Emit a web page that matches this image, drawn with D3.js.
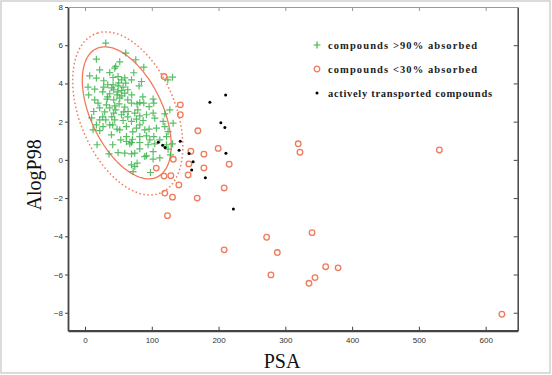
<!DOCTYPE html>
<html>
<head>
<meta charset="utf-8">
<script src="https://cdn.jsdelivr.net/npm/d3@7"></script>
<style>
  body { margin: 0; background: #fff; }
  svg { display: block; }
</style>
</head>
<body>
<div id="chart"></div>
<script>
const width = 552;
const height = 375;

// compounds >90% absorbed  [PSA, AlogP98]
const wellAbsorbed = [
  [31,6.11],[61,5.59],[76,5.24],[17,5.27],[88,4.85],[131,4.33],[124,4.19],[7,4.4],[17,4.28],[28,4.14],
  [37,4.57],[44.5,4.8],[46,4.89],[49.5,4.36],[42,4.31],[54.6,4.19],[69.6,4.19],[84.6,4.1],[4.5,3.81],[14.5,3.7],
  [28,3.81],[42,3.93],[49.5,3.87],[57,3.81],[61,4.02],[81,3.87],[43,3.67],[54.6,3.63],[37,3.46],[48,3.4],
  [59.5,3.49],[14.5,3.14],[33,3.18],[43,3.14],[52,3.23],[19.5,2.97],[13,2.53],[32,2.88],[44.5,2.83],[51,2.93],
  [59.5,2.76],[69.6,2.97],[78,2.93],[82,3.0],[88,2.97],[102,3.18],[103,2.97],[96,2.79],[127,2.62],[119.5,2.41],
  [64.5,2.53],[74.5,2.45],[54.6,2.36],[43,2.45],[82,2.3],[92,2.36],[102,2.45],[104.5,2.18],[22,2.09],[31,2.09],
  [17,1.83],[27,1.74],[37,1.83],[44.5,2.09],[57,2.06],[69.6,2.01],[77,2.13],[87,2.06],[117,2.01],[132,1.92],
  [12,1.57],[22,1.53],[48,1.61],[62,1.74],[77,1.66],[96,1.61],[107,1.66],[119.5,1.74],[124.4,1.48],[39.6,1.31],
  [62,1.22],[71,1.08],[82,1.22],[92,1.26],[103,1.22],[122,1.22],[62,0.96],[67,0.84],[69.6,0.91],[82,0.91],
  [94.5,0.79],[104.5,0.84],[18,0.79],[122,0.79],[131,0.84],[124.4,0.56],[49.5,0.38],[59.5,0.35],[69.6,0.31],[74.5,0.35],
  [92,0.21],[102,0.43],[102,0.04],[36,0.31],[69.6,-0.26],[74.5,-0.35],[72,-0.61],[78,-0.17],[98,-0.66],[128,0.26],
  [89.5,0.17],[34,3.93],[40,3.77],[49,3.56],[55,3.35],[64,3.14],[37,2.72],[46,2.62],[58,2.51],[64,2.25],
  [40,2.25],[29.5,2.51],[22,2.72],[50.5,4.03],[59.5,4.29],[26.5,3.56],[34,3.3],[64,3.67],[70,3.4],[5.5,3.4],
  [10,2.2],[26.5,2.25],[41.5,1.83],[52,1.57],[82,1.83],[89.5,1.57],[112,1.05],[97,1.05],[71.5,1.47],[79,2.62],
  [86.5,3.3],[52,5.13],[73,4.56],[22,4.71],[53.5,1.05],[41.5,0.79],[112,0.1],[82,0.58]
];

// compounds <30% absorbed
const poorlyAbsorbed = [
  [118.4,4.36],[142.7,2.88],[142.7,2.36],[169,1.52],[158.5,0.45],[178,0.3],[199.4,0.6],[132.2,0.03],[106.7,-0.43],[155.5,-0.21],
  [178,-0.42],[215.9,-0.23],[154.4,-0.79],[118.4,-0.85],[128.5,-0.83],[140.5,-1.31],[208.4,-1.47],[119.5,-1.74],[131,-1.95],[168,-2.0],
  [123.5,-2.92],[208.4,-4.71],[272,-4.05],[288,-4.85],[340,-3.81],[278.4,-6.02],[360.4,-5.59],[379,-5.65],[344.4,-6.16],[335.4,-6.46],
  [319.3,0.84],[321.9,0.4],[530.7,0.52],[624.3,-8.08]
];

// actively transported compounds
const activeTransport = [
  [109.7,0.92],[116.2,0.76],[119.9,0.65],[142.7,0.98],[140.9,0.5],[155.8,0.33],[161.9,-0.1],[159.7,-0.53],[180.2,-0.93],[187,3.02],
  [210.6,3.4],[203.4,1.94],[209.4,1.7],[211,0.35],[222.2,-2.57]
];

// ellipses: centre and two conjugate semi-axes, in data units
const innerEllipse = { c: [62.5, 2.46], u: [-45.4, 3.36], v: [48.7, 0.80] };
const outerEllipse = { c: [64.0, 2.43], u: [-49.1, 4.16], v: [66.3, 0.95] };

const xTicks = [0, 100, 200, 300, 400, 500, 600];
const yTicks = [-8, -6, -4, -2, 0, 2, 4, 6, 8];

const legendItems = [
  { label: "compounds >90% absorbed", kind: "cross" },
  { label: "compounds <30% absorbed", kind: "circle" },
  { label: "actively transported compounds", kind: "dot" }
];

const green = "#3cb44b";
const orange = "#f27a5a";

const svg = d3.select("#chart").append("svg")
  .attr("width", width)
  .attr("height", height);

// outer frame of the picture
svg.append("rect")
  .attr("x", 1).attr("y", 1)
  .attr("width", width - 3).attr("height", height - 3)
  .attr("fill", "none")
  .attr("stroke", "#d0d0d0")
  .attr("stroke-width", 1.5);

const x = d3.scaleLinear().domain([-25.5, 648]).range([68, 517.7]);
const y = d3.scaleLinear().domain([-8.94, 8]).range([330.7, 7]);

// axes
const axisColor = "#444";
function styleAxis(g) {
  g.selectAll("line").attr("stroke", axisColor);
  g.selectAll("path.domain").attr("stroke", axisColor);
  g.selectAll("text")
    .attr("fill", "#333")
    .attr("font-family", "Liberation Sans, Arial, sans-serif")
    .attr("font-size", "8px");
}

svg.append("g")
  .attr("transform", `translate(${x.range()[0]},0)`)
  .call(d3.axisLeft(y).tickValues(yTicks).tickSize(3).tickSizeOuter(0).tickPadding(2))
  .call(styleAxis)
  .call(g => g.select("path.domain").attr("stroke-width", 1.8));

svg.append("g")
  .attr("transform", `translate(0,${y.range()[0]})`)
  .call(d3.axisBottom(x).tickValues(xTicks).tickSize(-4).tickSizeOuter(0).tickPadding(7))
  .call(styleAxis)
  .call(g => g.select("path.domain").attr("stroke-width", 2.2));

svg.append("g")
  .attr("transform", `translate(${x.range()[1]},0)`)
  .call(d3.axisRight(y).tickValues(yTicks).tickSize(-4).tickSizeOuter(0).tickFormat(""))
  .call(styleAxis)
  .call(g => g.select("path.domain").attr("stroke-width", 1.5));

svg.append("g")
  .attr("transform", `translate(0,${y.range()[1]})`)
  .call(d3.axisTop(x).tickValues(xTicks).tickSize(-4).tickSizeOuter(0).tickFormat(""))
  .call(styleAxis)
  .call(g => g.selectAll("path.domain, line").attr("stroke", "#999"));

// axis titles
svg.append("text")
  .attr("transform", `translate(41,${(y.range()[0] + y.range()[1]) / 2 + 6}) rotate(-90)`)
  .attr("text-anchor", "middle")
  .attr("font-family", "Liberation Serif, Times New Roman, serif")
  .attr("font-size", "20px")
  .attr("fill", "#111")
  .text("AlogP98");

svg.append("text")
  .attr("x", 282)
  .attr("y", 368)
  .attr("text-anchor", "middle")
  .attr("font-family", "Liberation Serif, Times New Roman, serif")
  .attr("font-size", "20px")
  .attr("fill", "#111")
  .text("PSA");

// ellipses
function ellipsePoints(e) {
  return d3.range(0, 361, 3).map(a => {
    const t = a * Math.PI / 180;
    return [
      e.c[0] + e.u[0] * Math.cos(t) + e.v[0] * Math.sin(t),
      e.c[1] + e.u[1] * Math.cos(t) + e.v[1] * Math.sin(t)
    ];
  });
}
const ellipseLine = d3.line()
  .x(d => x(d[0]))
  .y(d => y(d[1]))
  .curve(d3.curveCardinalClosed);

svg.append("path")
  .attr("d", ellipseLine(ellipsePoints(outerEllipse)))
  .attr("fill", "none")
  .attr("stroke", orange)
  .attr("stroke-width", 1.5)
  .attr("stroke-dasharray", "1.5,2.5");

svg.append("path")
  .attr("d", ellipseLine(ellipsePoints(innerEllipse)))
  .attr("fill", "none")
  .attr("stroke", orange)
  .attr("stroke-width", 1.3);

// points
const crossPath = "M-3.5,0H3.5M0,-3.5V3.5";

svg.append("g").selectAll("path")
  .data(wellAbsorbed)
  .enter()
  .append("path")
  .attr("d", crossPath)
  .attr("transform", d => `translate(${x(d[0])},${y(d[1])})`)
  .attr("stroke", green)
  .attr("stroke-width", 1.2)
  .attr("opacity", 0.85);

svg.append("g").selectAll("circle")
  .data(poorlyAbsorbed)
  .enter()
  .append("circle")
  .attr("cx", d => x(d[0]))
  .attr("cy", d => y(d[1]))
  .attr("r", 2.8)
  .attr("fill", "none")
  .attr("stroke", orange)
  .attr("stroke-width", 1.3);

svg.append("g").selectAll("circle")
  .data(activeTransport)
  .enter()
  .append("circle")
  .attr("cx", d => x(d[0]))
  .attr("cy", d => y(d[1]))
  .attr("r", 1.5)
  .attr("fill", "#000");

// legend
const legend = svg.append("g").attr("transform", "translate(317,45)");
const legendRow = legend.selectAll("g")
  .data(legendItems)
  .enter()
  .append("g")
  .attr("transform", (d, i) => `translate(0,${i * 24})`);

legendRow.each(function(d) {
  const g = d3.select(this);
  if (d.kind === "cross") {
    g.append("path").attr("d", crossPath).attr("stroke", green).attr("stroke-width", 1.2);
  } else if (d.kind === "circle") {
    g.append("circle").attr("r", 2.8).attr("fill", "none").attr("stroke", orange).attr("stroke-width", 1.3);
  } else {
    g.append("circle").attr("r", 1.5).attr("fill", "#000");
  }
});

legendRow.append("text")
  .attr("x", 11)
  .attr("y", 4)
  .attr("font-family", "Liberation Serif, Times New Roman, serif")
  .attr("font-weight", "bold")
  .attr("font-size", "10.5px")
  .attr("fill", "#222")
  .attr("textLength", (d, i) => [149, 149, 164][i])
  .attr("lengthAdjust", "spacing")
  .text(d => d.label);
</script>
</body>
</html>
